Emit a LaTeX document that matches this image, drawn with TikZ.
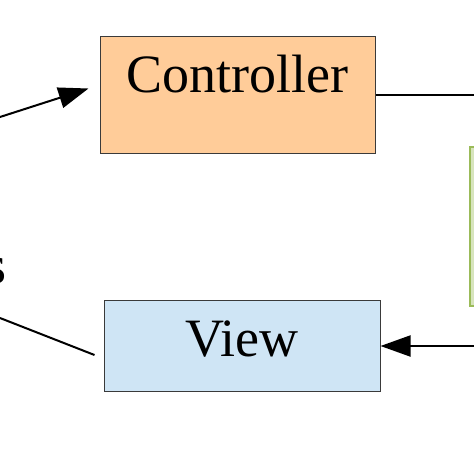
\documentclass[tikz,border=0pt]{standalone}
\usepackage{fontspec}
\setmainfont{Liberation Serif}
\usetikzlibrary{arrows.meta}
\definecolor{ctrlfill}{HTML}{FFCC99}
\definecolor{viewfill}{HTML}{CFE5F5}
\definecolor{modelfill}{HTML}{D7E4BD}
\definecolor{modeldraw}{HTML}{9BBB59}
\definecolor{boxdraw}{HTML}{3A3A3A}
\begin{document}
\begin{tikzpicture}[x=1pt,y=-1pt,>={Triangle[length=30pt,width=21pt]},
    part/.style={draw=boxdraw,line width=1pt,inner sep=0pt,font=\fontsize{54}{60}\selectfont},
    link/.style={line width=2pt}]
    \useasboundingbox (0,0) rectangle (474,474);

    \node[part,fill=ctrlfill,minimum width=275pt,text height=56pt,text depth=61pt] (ctrl) at (237.5,94.5) {Controller};
    \node[part,fill=viewfill,minimum width=276pt,text height=56pt,text depth=35pt] (view) at (242,346) {View};
    \node[draw=modeldraw,fill=modelfill,line width=2pt,minimum width=50pt,minimum height=159pt] (model) at (495,226.5) {};
    \node[anchor=base east,inner sep=0pt,font=\fontsize{54}{60}\selectfont] (users) at (7,283) {s};

    \coordinate (inC) at (0,117);
    \coordinate (outC) at (474,94.5);
    \coordinate (inV) at (474,346);
    \coordinate (outV) at (0,318);

    \draw[link,->] (inC) -- ([shift={(-11,-6)}]ctrl.west);
    \draw[link] (ctrl.east) -- (outC);
    \draw[link,->] (inV) -- (view.east);
    \draw[link] ([shift={(-9,9)}]view.west) -- (outV);
\end{tikzpicture}
\end{document}
